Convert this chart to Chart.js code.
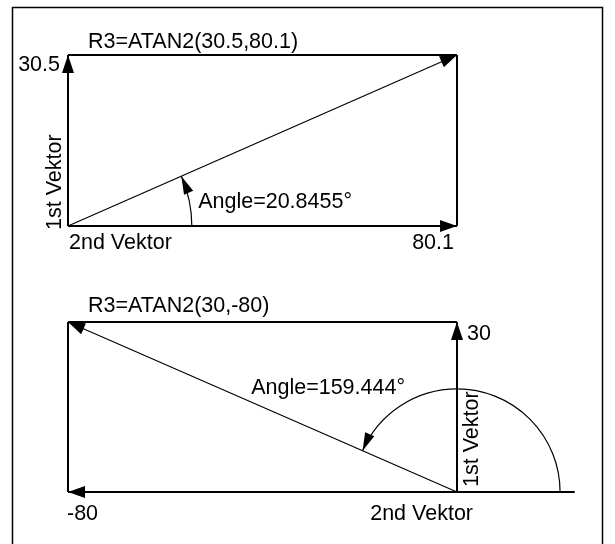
<!DOCTYPE html>
<html>
<head>
<meta charset="utf-8">
<script src="https://cdn.jsdelivr.net/npm/chart.js@4/dist/chart.umd.min.js"></script>
<style>
  html, body { margin: 0; padding: 0; background: #fff; }
  canvas { display: block; }
</style>
</head>
<body>
<canvas id="c" width="615" height="544"></canvas>
<script>
// ---- data ----
const topVector = [80.1, 30.5];        // [2nd Vektor, 1st Vektor]
const botVector = [-80, 30];           // [2nd Vektor, 1st Vektor]
const angles = [20.8455, 159.444];     // degrees
const titles = ['R3=ATAN2(30.5,80.1)', 'R3=ATAN2(30,-80)'];
const axisNames = ['1st Vektor', '2nd Vektor'];
const arcRadii = [25.5, 21.2];         // arc radius, in 2nd-vector units
const baselineExt = [0, 24.2];         // baseline extension past origin

// ---- layout (pixels) ----
const W = 615, H = 544;
const PX = { left: 68, right: 457, top1: 55, base1: 226, top2: 322, base2: 492 };
const FONT = '21.5px "Liberation Sans", Arial, sans-serif';

const span = PX.base2 - PX.top1;
const yTopMin = topVector[1] - topVector[1] * span / (PX.base1 - PX.top1);
const yBotMax = botVector[1] * span / (PX.base2 - PX.top2);

function seg(p, q, xa, ya, w) {
  return {
    data: [{x: p[0], y: p[1]}, {x: q[0], y: q[1]}],
    xAxisID: xa, yAxisID: ya, showLine: true, pointRadius: 0,
    borderColor: '#000', backgroundColor: '#000', borderWidth: w, clip: false
  };
}
const tx = topVector[0], ty = topVector[1], bx = botVector[0], by = botVector[1];
const datasets = [
  // top diagram
  seg([0, 0], [tx, 0], 'xT', 'yT', 2),
  seg([0, 0], [0, ty], 'xT', 'yT', 2),
  seg([0, ty], [tx, ty], 'xT', 'yT', 2),
  seg([tx, 0], [tx, ty], 'xT', 'yT', 2),
  seg([0, 0], [tx, ty], 'xT', 'yT', 1.2),
  // bottom diagram
  seg([baselineExt[1], 0], [bx, 0], 'xB', 'yB', 2),
  seg([0, 0], [0, by], 'xB', 'yB', 2),
  seg([bx, by], [0, by], 'xB', 'yB', 2),
  seg([bx, 0], [bx, by], 'xB', 'yB', 2),
  seg([0, 0], [bx, by], 'xB', 'yB', 1.2)
];

function arrowHead(ctx, fx, fy, x, y, len, half) {
  const a = Math.atan2(y - fy, x - fx);
  const c = Math.cos(a), s = Math.sin(a);
  ctx.beginPath();
  ctx.moveTo(x, y);
  ctx.lineTo(x - len * c - half * s, y - len * s + half * c);
  ctx.lineTo(x - len * c + half * s, y - len * s - half * c);
  ctx.closePath();
  ctx.fill();
}

function arcWithArrow(ctx, cx, cy, r, endAng) {
  ctx.beginPath();
  ctx.arc(cx, cy, r, 0, -endAng, true);
  ctx.stroke();
  const ex = cx + r * Math.cos(endAng), ey = cy - r * Math.sin(endAng);
  const dx = -Math.sin(endAng), dy = -Math.cos(endAng);
  arrowHead(ctx, ex - dx * 10, ey - dy * 10, ex, ey, 18, 5);
}

const drawPlugin = {
  id: 'vectorDiagram',
  afterDatasetsDraw(chart) {
    const ctx = chart.ctx;
    const s = chart.scales;
    const X1 = v => s.xT.getPixelForValue(v), Y1 = v => s.yT.getPixelForValue(v);
    const X2 = v => s.xB.getPixelForValue(v), Y2 = v => s.yB.getPixelForValue(v);
    ctx.save();
    ctx.fillStyle = '#000';
    ctx.strokeStyle = '#000';

    // frame
    ctx.lineWidth = 1.5;
    ctx.beginPath();
    ctx.moveTo(12.5, H + 5); ctx.lineTo(12.5, 7.5); ctx.lineTo(602.5, 7.5); ctx.lineTo(602.5, H + 5);
    ctx.stroke();

    // ---- top diagram ----
    const o1x = X1(0), o1y = Y1(0);
    arrowHead(ctx, o1x, o1y, X1(tx), o1y, 17, 6);
    arrowHead(ctx, o1x, o1y, o1x, Y1(ty), 18, 6);
    arrowHead(ctx, o1x, o1y, X1(tx), Y1(ty), 17, 6);
    ctx.lineWidth = 1.2;
    const a1 = Math.atan2(o1y - Y1(ty), X1(tx) - o1x);
    arcWithArrow(ctx, o1x, o1y, X1(arcRadii[0]) - o1x, a1);

    // ---- bottom diagram ----
    const o2x = X2(0), o2y = Y2(0);
    arrowHead(ctx, o2x, o2y, X2(bx), o2y, 17, 6);
    arrowHead(ctx, o2x, o2y, o2x, Y2(by), 18, 6);
    arrowHead(ctx, o2x, o2y, X2(bx), Y2(by), 17, 6);
    ctx.lineWidth = 1.2;
    const a2 = Math.atan2(o2y - Y2(by), X2(bx) - o2x);
    arcWithArrow(ctx, o2x, o2y, X2(arcRadii[1]) - o2x, a2);

    // ---- text ----
    ctx.font = FONT;
    ctx.textBaseline = 'alphabetic';
    const txt = (t, x, y, align) => { ctx.textAlign = align || 'left'; ctx.fillText(t, x, y); };
    const vtxt = (t, x, y) => {
      ctx.save(); ctx.translate(x, y); ctx.rotate(-Math.PI / 2);
      ctx.textAlign = 'left'; ctx.fillText(t, 0, 0); ctx.restore();
    };
    // top
    txt(titles[0], o1x + 20, Y1(ty) - 7);
    txt(String(ty), o1x - 8, Y1(ty) + 16, 'right');
    vtxt(axisNames[0], o1x - 7, o1y + 4);
    txt(axisNames[1], o1x + 1, o1y + 23);
    txt(String(tx), X1(tx) - 3, o1y + 23, 'right');
    txt('Angle=' + angles[0] + '°', o1x + 284, o1y - 18, 'right');
    // bottom
    txt(titles[1], X2(bx) + 20, Y2(by) - 10);
    txt(String(by), o2x + 10, Y2(by) + 18);
    vtxt(axisNames[0], o2x + 21, o2y - 5);
    txt(String(bx), X2(bx) - 1, o2y + 28);
    txt(axisNames[1], o2x + 16, o2y + 28, 'right');
    txt('Angle=' + angles[1] + '°', o2x - 52, o2y - 98, 'right');

    ctx.restore();
  }
};

new Chart(document.getElementById('c'), {
  type: 'scatter',
  data: { datasets },
  options: {
    responsive: false,
    animation: false,
    events: [],
    layout: { padding: { left: PX.left, right: W - PX.right, top: PX.top1, bottom: H - PX.base2 } },
    plugins: { legend: { display: false }, tooltip: { enabled: false } },
    scales: {
      xT: { type: 'linear', axis: 'x', position: 'bottom', display: false, min: 0, max: tx },
      xB: { type: 'linear', axis: 'x', position: 'bottom', display: false, min: bx, max: 0 },
      yT: { type: 'linear', axis: 'y', position: 'left', display: false, min: yTopMin, max: ty },
      yB: { type: 'linear', axis: 'y', position: 'left', display: false, min: 0, max: yBotMax }
    }
  },
  plugins: [drawPlugin]
});
</script>
</body>
</html>
